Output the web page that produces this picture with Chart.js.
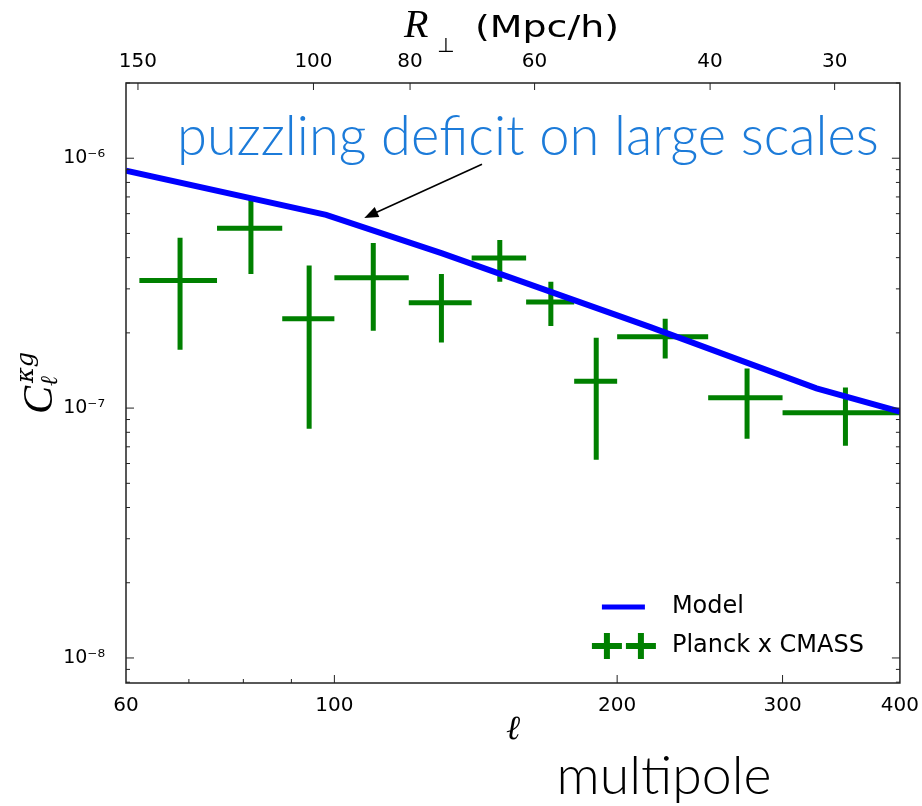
<!DOCTYPE html>
<html>
<head>
<meta charset="utf-8">
<script src="https://cdn.jsdelivr.net/npm/chart.js@4.4.0/dist/chart.umd.min.js"></script>
<style>
  html, body { margin: 0; padding: 0; background: #fff; }
  #wrap { width: 922px; height: 806px; }
</style>
</head>
<body>
<div id="wrap"><canvas id="chart" width="922" height="806"></canvas></div>
<script>
// Planck x CMASS bandpowers
const binLo = [62, 75, 88, 100, 120, 140, 160, 180, 200, 250, 300];
const binHi = [75, 88, 100, 120, 140, 160, 180, 200, 250, 300, 400];
const ellCenter = [68.5, 81.5, 94, 110, 130, 150, 170, 190, 225, 275, 350];
const clData = [3.24e-7, 5.25e-7, 2.28e-7, 3.32e-7, 2.64e-7, 3.99e-7, 2.66e-7, 1.28e-7, 1.93e-7, 1.10e-7, 9.58e-8];
const clLow  = [1.71e-7, 3.44e-7, 8.26e-8, 2.04e-7, 1.83e-7, 3.20e-7, 2.13e-7, 6.21e-8, 1.58e-7, 7.54e-8, 7.07e-8];
const clHigh = [4.80e-7, 7.00e-7, 3.72e-7, 4.58e-7, 3.44e-7, 4.71e-7, 3.20e-7, 1.91e-7, 2.28e-7, 1.44e-7, 1.21e-7];

// model curve
const modelEll = [60, 98, 130, 217, 326, 400];
const modelCl = [8.92e-7, 5.93e-7, 4.17e-7, 2.11e-7, 1.20e-7, 9.69e-8];

// axes
const xTicks = [60, 100, 200, 300, 400];
const xMajor = [100, 200, 300];
const xMinor = [70, 80, 90];
const rTicks = [150, 100, 80, 60, 40, 30];
const yTicks = [1e-8, 1e-7, 1e-6];
const yTickLabels = ["10⁻⁸", "10⁻⁷", "10⁻⁶"];

// annotation (data coords)
const noteText = "puzzling deficit on large scales";
const notePos = { x: 68, y: 1.03e-6 };
const arrowFrom = { x: 143.6, y: 9.46e-7 };
const arrowTo = { x: 107.6, y: 5.77e-7 };

const GREEN = "#008000";
const BLUE = "#0000ff";

function segments(xs0, ys0, xs1, ys1) {
  const pts = [];
  for (let i = 0; i < xs0.length; i++) {
    pts.push({ x: xs0[i], y: ys0[i] }, { x: xs1[i], y: ys1[i] }, { x: xs1[i], y: null });
  }
  return pts;
}

const hBars = segments(binLo, clData, binHi, clData);
const vBars = segments(ellCenter, clLow, ellCenter, clHigh);

function fitFont(ctx, text, weight, family, width) {
  ctx.font = `${weight} 100px ${family}`;
  return (100 * width) / ctx.measureText(text).width;
}

const decor = {
  id: "decor",
  afterDatasetsDraw(chart) {
    const { ctx, chartArea: a, scales } = chart;
    const { x, y, x2 } = scales;
    ctx.save();

    // frame
    ctx.strokeStyle = "#222";
    ctx.lineWidth = 1.5;
    ctx.strokeRect(a.left, a.top, a.right - a.left, a.bottom - a.top);

    // inward ticks
    ctx.lineWidth = 1;
    ctx.beginPath();
    const xt = (px, len) => { ctx.moveTo(px, a.bottom); ctx.lineTo(px, a.bottom - len); };
    xMajor.forEach((v) => xt(x.getPixelForValue(v), 8));
    xMinor.forEach((v) => xt(x.getPixelForValue(v), 4));
    rTicks.forEach((v) => {
      const px = x2.getPixelForValue(v);
      ctx.moveTo(px, a.top); ctx.lineTo(px, a.top + 7);
    });
    const yt = (py, len) => {
      ctx.moveTo(a.left, py); ctx.lineTo(a.left + len, py);
      ctx.moveTo(a.right, py); ctx.lineTo(a.right - len, py);
    };
    for (let e = -9; e <= -6; e++) {
      for (let m = 1; m <= 9; m++) {
        const v = m * Math.pow(10, e);
        if (v < y.min || v > y.max) continue;
        yt(y.getPixelForValue(v), m === 1 ? 8 : 4);
      }
    }
    ctx.stroke();

    // annotation arrow
    const fx = x.getPixelForValue(arrowFrom.x), fy = y.getPixelForValue(arrowFrom.y);
    const tx = x.getPixelForValue(arrowTo.x), ty = y.getPixelForValue(arrowTo.y);
    const ang = Math.atan2(ty - fy, tx - fx);
    ctx.strokeStyle = "#000";
    ctx.fillStyle = "#000";
    ctx.lineWidth = 1.6;
    ctx.beginPath();
    ctx.moveTo(fx, fy);
    ctx.lineTo(tx - 10 * Math.cos(ang), ty - 10 * Math.sin(ang));
    ctx.stroke();
    ctx.beginPath();
    ctx.moveTo(tx, ty);
    ctx.lineTo(tx - 14 * Math.cos(ang) + 5.5 * Math.sin(ang), ty - 14 * Math.sin(ang) - 5.5 * Math.cos(ang));
    ctx.lineTo(tx - 14 * Math.cos(ang) - 5.5 * Math.sin(ang), ty - 14 * Math.sin(ang) + 5.5 * Math.cos(ang));
    ctx.closePath();
    ctx.fill();

    // annotation text
    const nx = x.getPixelForValue(notePos.x), ny = y.getPixelForValue(notePos.y);
    const ns = fitFont(ctx, noteText, 300, "Lato", 702);
    ctx.font = `300 ${ns}px Lato`;
    ctx.fillStyle = "#1c7bd9";
    ctx.textAlign = "left";
    ctx.textBaseline = "alphabetic";
    ctx.fillText(noteText, nx, ny);

    // legend
    const lx = a.right - 298, ly1 = a.bottom - 76, ly2 = a.bottom - 37;
    ctx.strokeStyle = BLUE;
    ctx.lineWidth = 5;
    ctx.beginPath();
    ctx.moveTo(lx, ly1); ctx.lineTo(lx + 43, ly1);
    ctx.stroke();
    ctx.strokeStyle = GREEN;
    ctx.lineWidth = 6;
    ctx.beginPath();
    [lx + 5, lx + 39].forEach((cx) => {
      ctx.moveTo(cx - 15, ly2); ctx.lineTo(cx + 15, ly2);
      ctx.moveTo(cx, ly2 - 13); ctx.lineTo(cx, ly2 + 13);
    });
    ctx.stroke();
    ctx.fillStyle = "#000";
    ctx.font = "24px 'DejaVu Sans'";
    ctx.textBaseline = "middle";
    ctx.fillText("Model", a.right - 228, ly1);
    ctx.fillText("Planck x CMASS", a.right - 228, ly2);
    ctx.restore();
  },
  afterDraw(chart) {
    const { ctx } = chart;
    ctx.save();
    ctx.fillStyle = "#000";
    ctx.textBaseline = "alphabetic";
    ctx.textAlign = "left";

    // top axis title: R_perp (Mpc/h)
    ctx.font = "italic 40px 'Liberation Serif'";
    ctx.fillText("R", 404, 37);
    ctx.font = "20px 'DejaVu Sans'";
    ctx.fillText("⊥", 437, 52);
    ctx.save();
    ctx.translate(475, 37);
    ctx.font = "31px 'DejaVu Sans'";
    const w = ctx.measureText("(Mpc/h)").width;
    ctx.scale(144 / w, 1);
    ctx.fillText("(Mpc/h)", 0, 0);
    ctx.restore();

    // y axis title
    ctx.save();
    ctx.translate(52, 414);
    ctx.rotate(-Math.PI / 2);
    ctx.font = "italic 42px 'Liberation Serif'";
    ctx.fillText("C", 0, 0);
    ctx.font = "italic 24px 'DejaVu Serif'";
    ctx.fillText("ℓ", 28, 5);
    ctx.fillText("κg", 31, -19);
    ctx.restore();

    // multipole
    const ms = fitFont(ctx, "multipole", 300, "Lato", 215);
    ctx.font = `300 ${ms}px Lato`;
    ctx.textAlign = "center";
    ctx.fillText("multipole", 664, 794);
    ctx.restore();
  },
};

const tickFont = { family: "DejaVu Sans", size: 20 };

new Chart(document.getElementById("chart"), {
  type: "scatter",
  data: {
    datasets: [
      {
        label: "Model",
        data: modelEll.map((v, i) => ({ x: v, y: modelCl[i] })),
        showLine: true,
        borderColor: BLUE,
        borderWidth: 6,
        pointRadius: 0,
        tension: 0,
      },
      {
        label: "Planck x CMASS",
        data: hBars,
        showLine: true,
        borderColor: GREEN,
        borderWidth: 5,
        pointRadius: 0,
      },
      {
        label: "Planck x CMASS err",
        data: vBars,
        showLine: true,
        borderColor: GREEN,
        borderWidth: 5,
        pointRadius: 0,
      },
    ],
  },
  options: {
    responsive: false,
    animation: false,
    layout: { padding: { left: 0, right: 22, top: 0, bottom: 0 } },
    plugins: { legend: { display: false }, tooltip: { enabled: false } },
    scales: {
      x: {
        type: "logarithmic",
        position: "bottom",
        min: 60,
        max: 400,
        grid: { display: false },
        border: { display: false },
        afterBuildTicks: (s) => { s.ticks = xTicks.map((v) => ({ value: v })); },
        afterFit: (s) => { s.height = 123; },
        ticks: {
          autoSkip: false,
          maxRotation: 0,
          padding: 3,
          color: "#000",
          font: tickFont,
          callback: (v) => String(v),
        },
        title: {
          display: true,
          text: "ℓ",
          color: "#000",
          font: { family: "DejaVu Serif", style: "italic", size: 34 },
          padding: { top: 0, bottom: 55 },
        },
      },
      x2: {
        type: "logarithmic",
        axis: "x",
        position: "top",
        reverse: true,
        min: 25.8,
        max: 154.2,
        grid: { display: false },
        border: { display: false },
        afterBuildTicks: (s) => { s.ticks = rTicks.map((v) => ({ value: v })); },
        afterFit: (s) => { s.height = 83; },
        ticks: {
          autoSkip: false,
          maxRotation: 0,
          padding: 1,
          color: "#000",
          font: tickFont,
          callback: (v) => String(v),
        },
      },
      y: {
        type: "logarithmic",
        position: "left",
        min: 7.94e-9,
        max: 2.0e-6,
        grid: { display: false },
        border: { display: false },
        afterBuildTicks: (s) => { s.ticks = yTicks.map((v) => ({ value: v })); },
        afterFit: (s) => { s.width = 126; },
        ticks: {
          autoSkip: false,
          padding: 13,
          color: "#000",
          font: { family: "DejaVu Sans", size: 19 },
          callback: (v) => yTickLabels[yTicks.findIndex((t) => Math.abs(t - v) / t < 1e-6)] || "",
        },
      },
    },
  },
  plugins: [decor],
});
</script>
</body>
</html>
